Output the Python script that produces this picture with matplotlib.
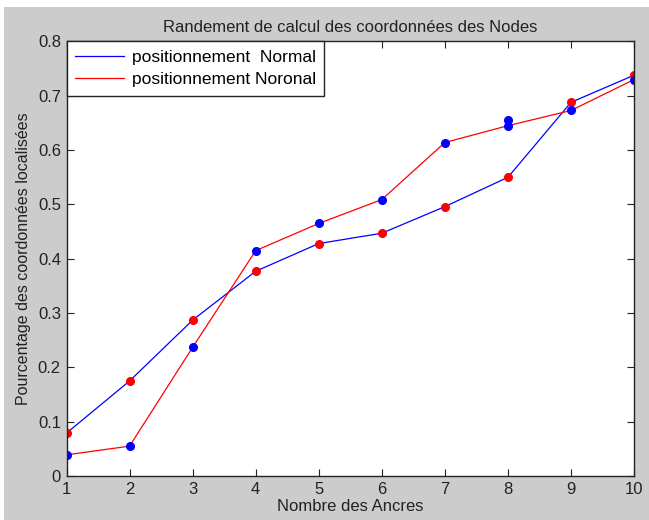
import numpy as np
import matplotlib.pyplot as plt
from matplotlib.patches import Rectangle

plt.rcParams['font.family'] = ['Liberation Sans', 'DejaVu Sans']

# --- données ---
ancres = [1, 2, 3, 4, 5, 6, 7, 8, 9, 10]
normal = [0.079, 0.175, 0.287, 0.377, 0.428, 0.447, 0.496, 0.550, 0.688, 0.738]
noronal = [0.039, 0.055, 0.237, 0.415, 0.465, 0.509, 0.614, 0.645, 0.673, 0.730]

# marqueurs (couleurs croisées comme sur l'original)
pts_rouges = normal
pts_bleus = noronal
extra_x = [8]
extra_bleu = [0.655]

fig = plt.figure(figsize=(6.49, 5.2), dpi=100)
fig.patch.set_facecolor('white')
fig.patches.append(Rectangle((4 / 649, 0), 1, 1 - 7 / 520, transform=fig.transFigure,
                             facecolor='#cccccc', edgecolor='none', zorder=-1))

ax = fig.add_axes([0.1025, 0.0846, 0.8745, 0.8356])

ax.plot(ancres, normal, color='#0000ff', linewidth=0.9, label='positionnement  Normal')
ax.plot(ancres, noronal, color='#ff0000', linewidth=0.9, label='positionnement Noronal')
ax.plot(ancres, pts_rouges, linestyle='none', marker='o', markersize=5.5, color='#ff0000')
ax.plot(ancres, pts_bleus, linestyle='none', marker='o', markersize=5.5, color='#0000ff')
ax.plot(extra_x, extra_bleu, linestyle='none', marker='o', markersize=5.5, color='#0000ff')

ax.set_xlim(1, 10)
ax.set_ylim(0, 0.8)
ax.set_xticks(range(1, 11))
ax.set_yticks(np.arange(0, 0.81, 0.1))
ax.set_yticklabels(['0', '0.1', '0.2', '0.3', '0.4', '0.5', '0.6', '0.7', '0.8'])
ax.tick_params(direction='in', top=True, right=True, labelsize=12, length=5, pad=4,
               colors='#222222')
for s in ax.spines.values():
    s.set_color('#222222')
    s.set_linewidth(1.0)

ax.set_title('Randement de calcul des coordonnées des Nodes', fontsize=12, pad=7,
             color='#222222')
ax.set_xlabel('Nombre des Ancres', fontsize=12, labelpad=2, color='#222222')
ax.set_ylabel('Pourcentage des coordonnées localisées', fontsize=11.5, labelpad=5,
              color='#222222')

leg = ax.legend(loc='upper left', fontsize=12.5, fancybox=False, framealpha=1,
                edgecolor='#222222', borderaxespad=0, handlelength=2.8,
                handletextpad=0.45, borderpad=0.5, labelspacing=0.4)
leg.get_frame().set_linewidth(1.0)

fig.savefig('out.png', dpi=100)
